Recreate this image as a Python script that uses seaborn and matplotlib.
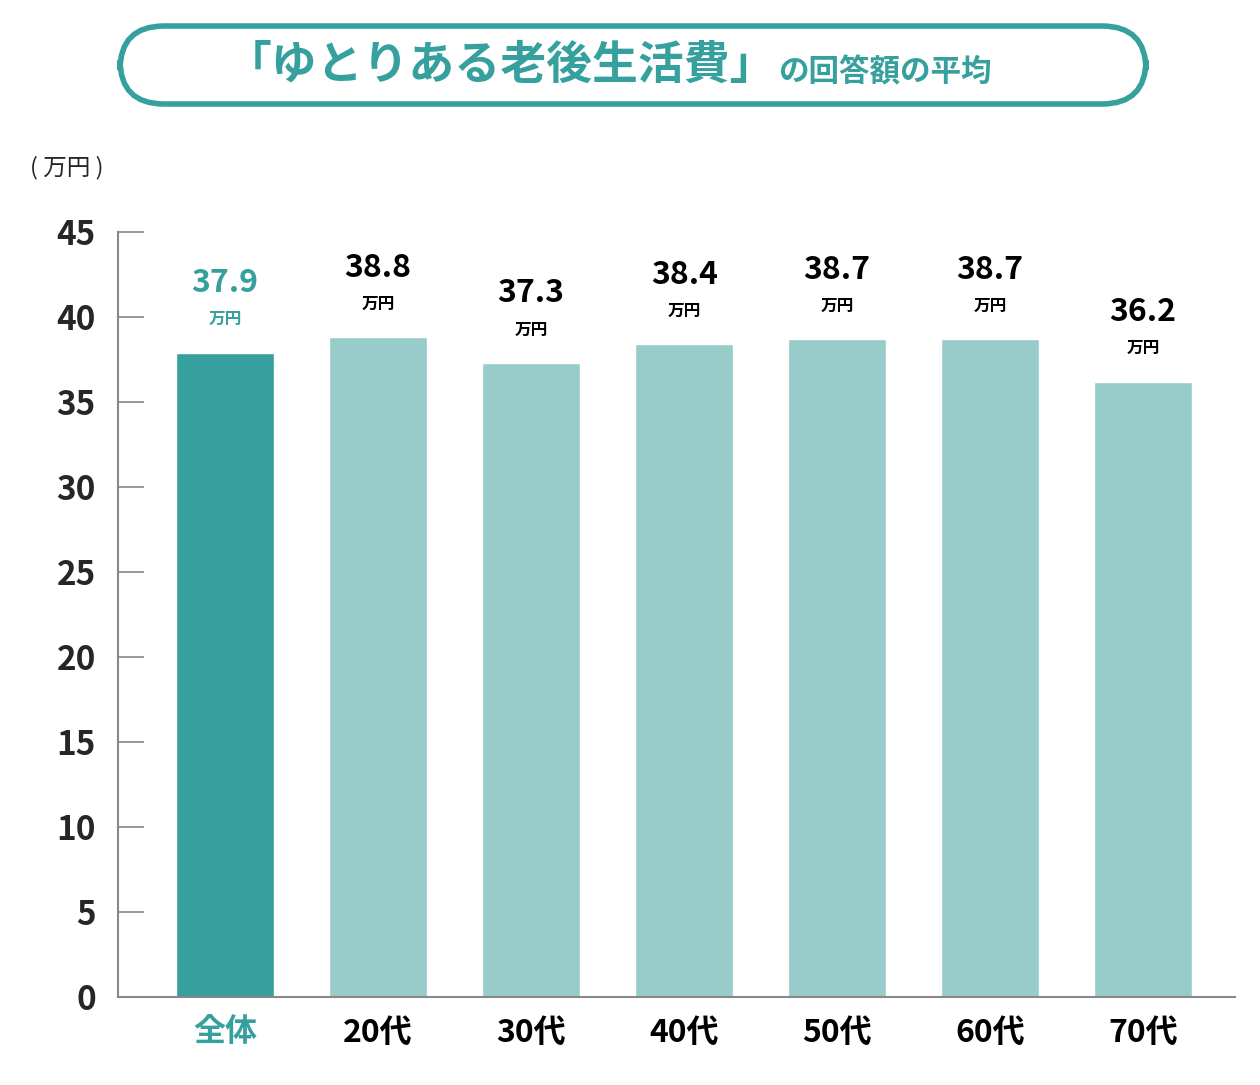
import matplotlib
matplotlib.use("Agg")
import matplotlib.pyplot as plt
import seaborn as sns
import pandas as pd
from matplotlib.patches import FancyBboxPatch

categories = ["全体", "20代", "30代", "40代", "50代", "60代", "70代"]
values = [37.9, 38.8, 37.3, 38.4, 38.7, 38.7, 36.2]
yticks = [0, 5, 10, 15, 20, 25, 30, 35, 40, 45]

dark = "#36a09f"
light = "#97cccb"

sns.set_theme(style="white")
plt.rcParams['font.family'] = ['Noto Sans CJK JP', 'DejaVu Sans']

df = pd.DataFrame({"cat": categories, "val": values})
fig = plt.figure(figsize=(12.6, 10.85), dpi=100)
ax = fig.add_axes([118/1260, 88/1085, (1235-118)/1260, (997-232)/1085])
palette = [dark] + [light] * (len(categories) - 1)
sns.barplot(data=df, x="cat", y="val", hue="cat", palette=palette, width=0.64,
            legend=False, ax=ax, saturation=1)
ax.set_xlim(-0.70, 6.60)
ax.set_ylim(0, 45)
ax.set_yticks(yticks)
ax.set_xlabel("")
ax.set_ylabel("")
for s in ["top", "right"]:
    ax.spines[s].set_visible(False)
for s in ["left", "bottom"]:
    ax.spines[s].set_color("#888888")
    ax.spines[s].set_linewidth(1.5)
ax.tick_params(axis="y", left=True, direction="in", length=19, width=1.2, color="#888888",
               labelsize=24, pad=16)
ax.tick_params(axis="x", bottom=False, length=0, labelsize=23, pad=14)
for lab in ax.get_yticklabels():
    lab.set_fontweight("bold")
for i, lab in enumerate(ax.get_xticklabels()):
    lab.set_fontweight("bold")
    lab.set_color(dark if i == 0 else "black")

for i, v in enumerate(values):
    c = dark if i == 0 else "black"
    ax.annotate(f"{v}", (i, v), xytext=(0, 50), textcoords="offset points",
                ha="center", va="center", fontsize=23, fontweight="bold", color=c)
    ax.annotate("万円", (i, v), xytext=(0, 24), textcoords="offset points",
                ha="center", va="center", fontsize=12, fontweight="bold", color=c)

fig.text(30/1260, 1-168/1085, "( 万円 )", fontsize=17, va="center", ha="left")

box = FancyBboxPatch((120/1260, 1-104/1085), (1146-120)/1260, (104-26)/1085,
                     boxstyle="round,pad=0,rounding_size=0.035",
                     transform=fig.transFigure, facecolor="white",
                     edgecolor=dark, linewidth=4, mutation_aspect=1260/1085)
fig.patches.append(box)
fig.text(776/1260, 1-66/1085, "「ゆとりある老後生活費」", fontsize=33, fontweight="bold",
         color=dark, ha="right", va="center")
fig.text(778/1260, 1-72/1085, "の回答額の平均", fontsize=22, fontweight="bold",
         color=dark, ha="left", va="center")

fig.savefig("out.png", dpi=100)
